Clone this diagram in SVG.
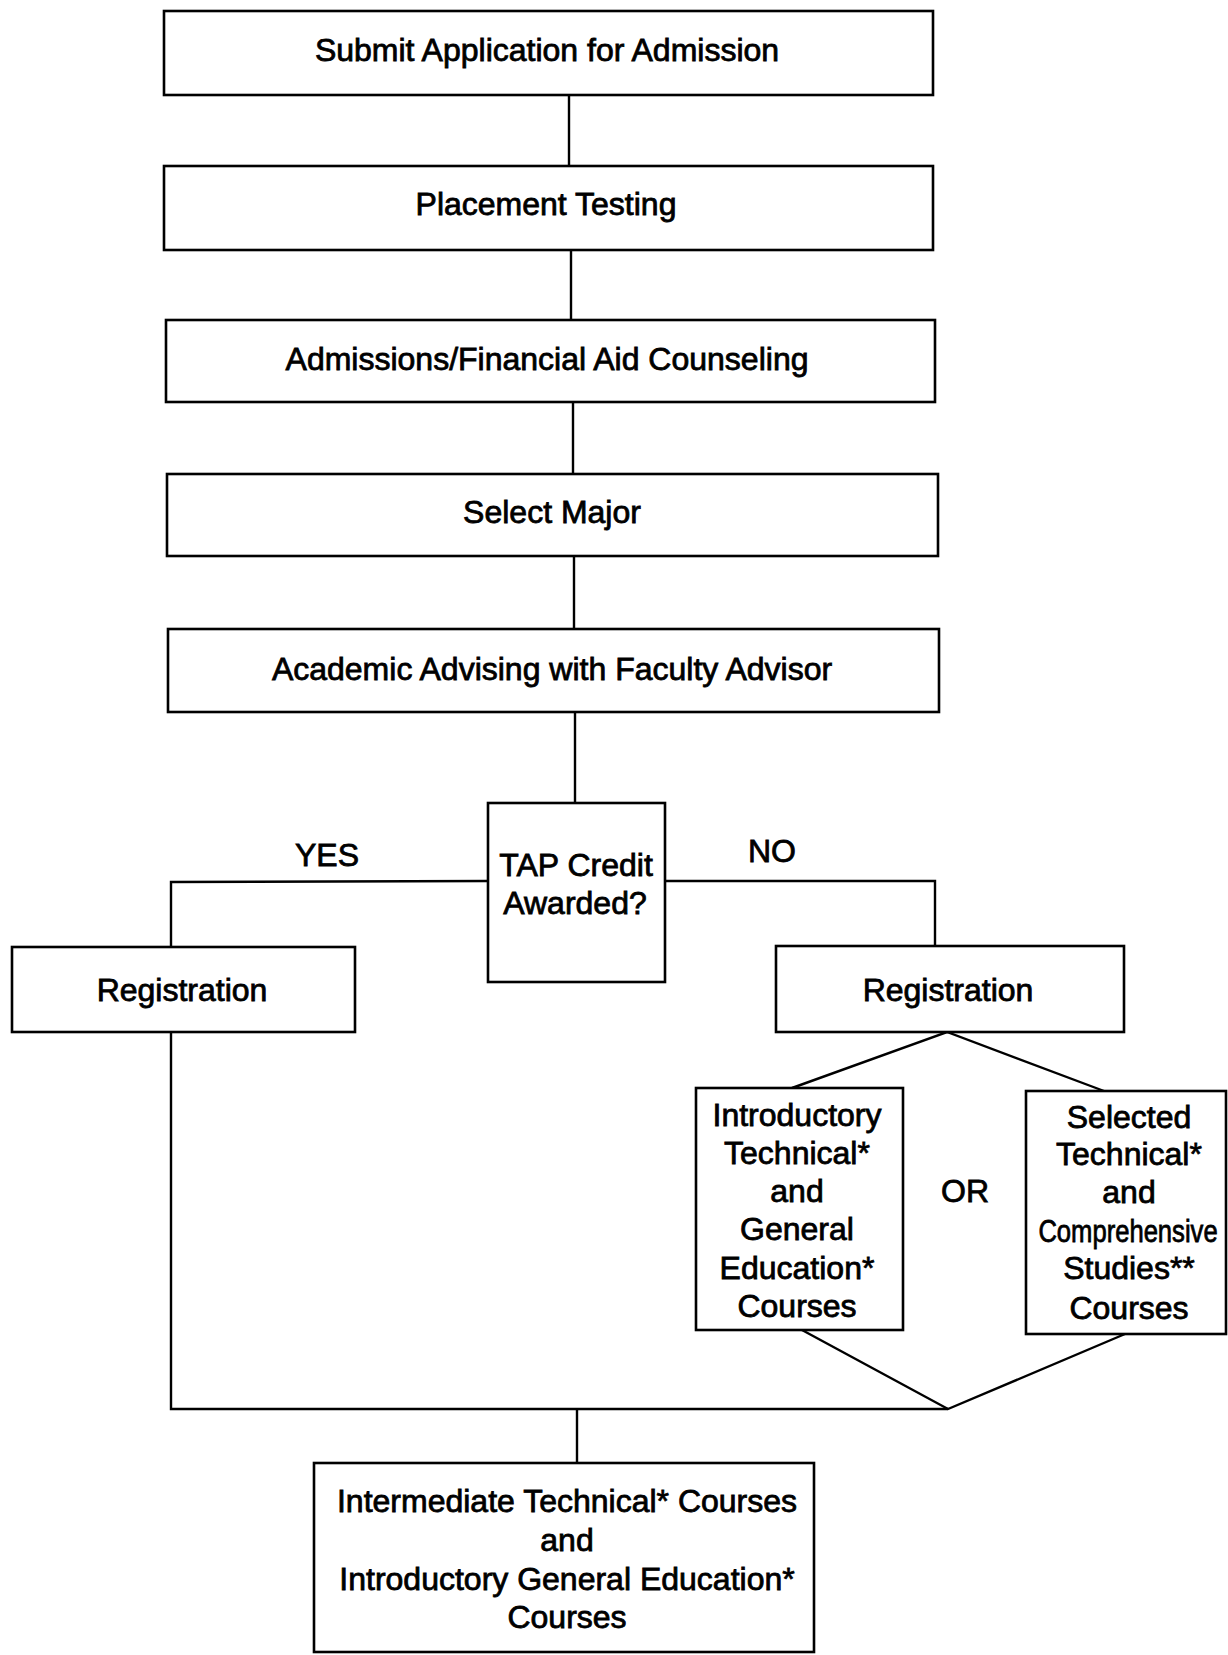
<svg xmlns="http://www.w3.org/2000/svg" width="1228" height="1655" viewBox="0 0 1228 1655">
  <style>
    .box { fill: #fff; stroke: #000; stroke-width: 2.6; }
    .line { fill: none; stroke: #000; stroke-width: 2.4; stroke-linejoin: miter; }
    .t { font-family: "Liberation Sans", Arial, Helvetica, sans-serif; font-size: 32px; fill: #000; stroke: #000; stroke-width: 0.8; text-anchor: middle; }
  </style>
  <rect width="1228" height="1655" fill="#fff"/>

  <!-- connectors -->
  <g id="connectors">
    <line class="line" x1="569" y1="95" x2="569" y2="166"/>
    <line class="line" x1="571" y1="250" x2="571" y2="320"/>
    <line class="line" x1="573" y1="402" x2="573" y2="474"/>
    <line class="line" x1="574" y1="556" x2="574" y2="629"/>
    <line class="line" x1="575" y1="712" x2="575" y2="803"/>
    <!-- YES branch -->
    <polyline class="line" points="488,881 171,882 171,947"/>
    <!-- NO branch -->
    <polyline class="line" points="665,881 935,881 935,946"/>
    <!-- split under right Registration -->
    <polyline class="line" points="792,1088 947,1032 1104,1091"/>
    <!-- merge under the two course boxes -->
    <polyline class="line" points="802,1330 948,1409 1125,1334"/>
    <!-- left path down and across -->
    <polyline class="line" points="171,1032 171,1409 948,1409"/>
    <line class="line" x1="577" y1="1409" x2="577" y2="1463"/>
  </g>

  <g id="submit">
    <rect class="box" x="164" y="11" width="769" height="84"/>
    <text class="t" x="547" y="61">Submit Application for Admission</text>
  </g>
  <g id="placement">
    <rect class="box" x="164" y="166" width="769" height="84"/>
    <text class="t" x="546" y="215">Placement Testing</text>
  </g>
  <g id="counseling">
    <rect class="box" x="166" y="320" width="769" height="82"/>
    <text class="t" x="547" y="370">Admissions/Financial Aid Counseling</text>
  </g>
  <g id="major">
    <rect class="box" x="167" y="474" width="771" height="82"/>
    <text class="t" x="552" y="523">Select Major</text>
  </g>
  <g id="advising">
    <rect class="box" x="168" y="629" width="771" height="83"/>
    <text class="t" x="552" y="680">Academic Advising with Faculty Advisor</text>
  </g>

  <g id="tap">
    <rect class="box" x="488" y="803" width="177" height="179"/>
    <text class="t" x="576" y="876">TAP Credit</text>
    <text class="t" x="575" y="914">Awarded?</text>
  </g>
  <g id="yes-label"><text class="t" x="327" y="866">YES</text></g>
  <g id="no-label"><text class="t" x="772" y="862">NO</text></g>

  <g id="registration-yes">
    <rect class="box" x="12" y="947" width="343" height="85"/>
    <text class="t" x="182" y="1001">Registration</text>
  </g>
  <g id="registration-no">
    <rect class="box" x="776" y="946" width="348" height="86"/>
    <text class="t" x="948" y="1001">Registration</text>
  </g>

  <g id="intro-courses">
    <rect class="box" x="696" y="1088" width="207" height="242"/>
    <text class="t" x="797" y="1126">Introductory</text>
    <text class="t" x="797" y="1164">Technical*</text>
    <text class="t" x="797" y="1202">and</text>
    <text class="t" x="797" y="1240">General</text>
    <text class="t" x="797" y="1279">Education*</text>
    <text class="t" x="797" y="1317">Courses</text>
  </g>
  <g id="or-label"><text class="t" x="965" y="1202">OR</text></g>
  <g id="selected-courses">
    <rect class="box" x="1026" y="1091" width="200" height="243"/>
    <text class="t" x="1129" y="1128">Selected</text>
    <text class="t" x="1129" y="1165">Technical*</text>
    <text class="t" x="1129" y="1203">and</text>
    <text class="t" transform="translate(1128 1242) scale(0.8 1)" x="0" y="0">Comprehensive</text>
    <text class="t" x="1129" y="1279">Studies**</text>
    <text class="t" x="1129" y="1319">Courses</text>
  </g>

  <g id="intermediate">
    <rect class="box" x="314" y="1463" width="500" height="189"/>
    <text class="t" x="567" y="1512">Intermediate Technical* Courses</text>
    <text class="t" x="567" y="1551">and</text>
    <text class="t" x="567" y="1590">Introductory General Education*</text>
    <text class="t" x="567" y="1628">Courses</text>
  </g>
</svg>
